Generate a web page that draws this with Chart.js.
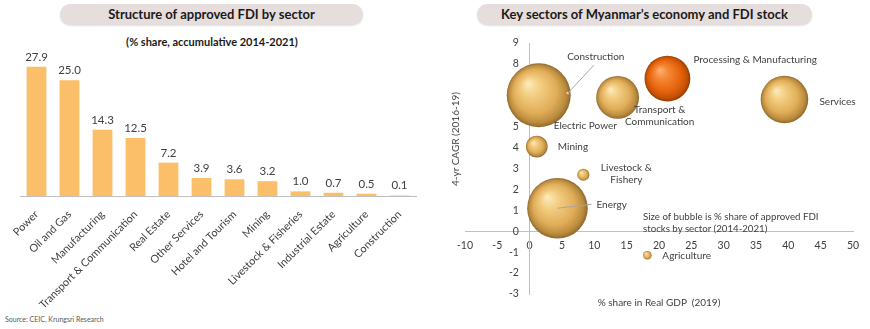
<!DOCTYPE html>
<html>
<head>
<meta charset="utf-8">
<script src="https://cdn.jsdelivr.net/npm/chart.js@4.4.0/dist/chart.umd.min.js"></script>
<style>
  html, body { margin: 0; padding: 0; background: #fff; }
  body { width: 870px; height: 329px; position: relative; overflow: hidden; font-family: Lato, 'Open Sans', sans-serif; color: #404040; }
  .pill { position: absolute; top: 4px; height: 21px; line-height: 21px; border-radius: 11px; background: #e6dddd;
          box-shadow: 0 1px 2px rgba(0,0,0,0.12); text-align: center; font-weight: bold; font-size: 13px; color: #1a1a1a; }
  .wrap { position: absolute; top: 0; width: 430px; height: 329px; }
  .txt { position: absolute; white-space: nowrap; font-size: 10.5px; line-height: 12px; color: #404040; }
</style>
</head>
<body>
<div class="pill" style="left:60px;width:303px;">Structure of approved FDI by sector</div>
<div class="pill" style="left:477px;width:335px;">Key sectors of Myanmar’s economy and FDI stock</div>
<div class="txt" style="left:0;width:424px;top:36px;text-align:center;font-weight:bold;font-size:11px;color:#1a1a1a;">(% share, accumulative 2014-2021)</div>
<div class="txt" style="left:5px;top:314px;font-size:7px;line-height:10px;color:#595959;">Source: CEIC, Krungsri Research</div>

<div class="wrap" style="left:0;"><canvas id="chart-sector"></canvas></div>
<div class="wrap" style="left:440px;"><canvas id="chart-bubble"></canvas></div>

<div class="txt" style="left:455px;top:139px;font-size:10px;transform:translate(-50%,-50%) rotate(-90deg);">4-yr CAGR (2016-19)</div>
<div class="txt" style="left:659px;top:296px;font-size:10px;transform:translateX(-50%);">% share in Real GDP&nbsp; (2019)</div>
<div class="txt" style="left:643px;top:210px;font-size:9.7px;">Size of bubble is % share of approved FDI<br>stocks by sector (2014-2021)</div>

<script>
'use strict';
// left chart: approved FDI by sector (% share)
var fdiSectors = ['Power', 'Oil and Gas', 'Manufacturing', 'Transport & Communication', 'Real Estate',
  'Other Services', 'Hotel and Tourism', 'Mining', 'Livestock & Fisheries', 'Industrial Estate', 'Agriculture', 'Construction'];
var fdiValues = [27.9, 25.0, 14.3, 12.5, 7.2, 3.9, 3.6, 3.2, 1.0, 0.7, 0.5, 0.1];

// right chart: key sectors, bubble = FDI share
var bubbleSectors = ['Electric Power', 'Construction', 'Transport & Communication', 'Processing & Manufacturing',
  'Services', 'Mining', 'Livestock & Fishery', 'Energy', 'Agriculture'];
var gdpShare = [1.4, 5.9, 13.6, 21.3, 39.4, 1.1, 8.3, 4.3, 18.2];
var cagr = [6.5, 6.6, 6.4, 7.3, 6.3, 4.05, 2.7, 1.1, -1.15];
var fdiStock = [27.9, 0.1, 12.5, 14.3, 15.4, 3.2, 1.0, 25.0, 0.5];

var xTickRange = [-10, 50];
var yTickRange = [-3, 9];

var FONT = 'Lato, "Open Sans", sans-serif';
var TEXT = '#404040';
var AXIS = '#bfbfbf';
var highlightSector = 'Processing & Manufacturing';

// label placement relative to bubble centre (px)
var bubbleLabels = {
  'Electric Power': { lines: ['Electric Power'], dx: 15, dy: 30, align: 'left' },
  'Construction': { lines: ['Construction'], dx: 28, dy: -36, align: 'center', leader: [26, -28] },
  'Transport & Communication': { lines: ['Transport &', 'Communication'], dx: 42, dy: 12.5, align: 'center' },
  'Processing & Manufacturing': { lines: ['Processing & Manufacturing'], dx: 26, dy: -19, align: 'left' },
  'Services': { lines: ['Services'], dx: 35, dy: 2, align: 'left' },
  'Mining': { lines: ['Mining'], dx: 21, dy: 0, align: 'left' },
  'Livestock & Fishery': { lines: ['Livestock &', 'Fishery'], dx: 43, dy: -6.5, align: 'center' },
  'Energy': { lines: ['Energy'], dx: 39, dy: -3, align: 'left', leader: [34, -4] },
  'Agriculture': { lines: ['Agriculture'], dx: 15, dy: 0, align: 'left' }
};

var goldStops = [[0, '#fdecbc'], [0.3, '#f3cd82'], [0.68, '#e0ad58'], [0.9, '#b98a3e'], [1, '#8f672b']];
var orangeStops = [[0, '#ffb279'], [0.3, '#f58733'], [0.68, '#e6640d'], [0.9, '#c25004'], [1, '#933b00']];

var valueLabels = {
  id: 'valueLabels',
  afterDatasetsDraw: function(chart) {
    var ctx = chart.ctx;
    var meta = chart.getDatasetMeta(0);
    ctx.save();
    ctx.font = '11.5px ' + FONT;
    ctx.fillStyle = TEXT;
    ctx.textAlign = 'center';
    ctx.textBaseline = 'bottom';
    meta.data.forEach(function(bar, i) {
      ctx.fillText(fdiValues[i].toFixed(1), bar.x, bar.y - 4);
    });
    ctx.restore();
  }
};

new Chart(document.getElementById('chart-sector'), {
  type: 'bar',
  data: {
    labels: fdiSectors,
    datasets: [{ data: fdiValues, backgroundColor: '#fcbf69', barPercentage: 0.6, categoryPercentage: 1 }]
  },
  options: {
    responsive: true, maintainAspectRatio: false, animation: false,
    layout: { autoPadding: false, padding: { left: 20, right: 14, top: 57, bottom: 10 } },
    plugins: { legend: { display: false }, tooltip: { enabled: false } },
    scales: {
      x: {
        grid: { display: false },
        border: { color: AXIS },
        ticks: { autoSkip: false, minRotation: 45, maxRotation: 45, color: TEXT, font: { size: 10.8, family: FONT }, padding: 4 },
        afterFit: function(s) { s.height = 123; }
      },
      y: { display: false, min: 0, max: 30 }
    }
  },
  plugins: [valueLabels]
});

function sphereFill(c) {
  var fallback = '#e9b964';
  if (!c.raw) return fallback;
  var chart = c.chart;
  var xs = chart.scales.x, ys = chart.scales.y;
  if (!xs || !ys) return fallback;
  var cx = xs.getPixelForValue(c.raw.x), cy = ys.getPixelForValue(c.raw.y), r = Math.max(c.raw.r, 1);
  if (!isFinite(cx) || !isFinite(cy)) return fallback;
  var g = chart.ctx.createRadialGradient(cx - r * 0.35, cy - r * 0.38, 0, cx, cy, r);
  var stops = bubbleSectors[c.dataIndex] === highlightSector ? orangeStops : goldStops;
  stops.forEach(function(s) { g.addColorStop(s[0], s[1]); });
  return g;
}

var bubbleText = {
  id: 'bubbleText',
  afterDraw: function(chart) {
    var ctx = chart.ctx;
    var meta = chart.getDatasetMeta(0);
    ctx.save();
    ctx.font = '10px ' + FONT;
    ctx.fillStyle = TEXT;
    ctx.textBaseline = 'middle';
    ctx.strokeStyle = '#a6a6a6';
    ctx.lineWidth = 1;
    meta.data.forEach(function(pt, i) {
      var cfg = bubbleLabels[bubbleSectors[i]];
      if (!cfg) return;
      if (cfg.leader) {
        ctx.beginPath();
        ctx.moveTo(pt.x, pt.y);
        ctx.lineTo(pt.x + cfg.leader[0], pt.y + cfg.leader[1]);
        ctx.stroke();
      }
      ctx.textAlign = cfg.align;
      cfg.lines.forEach(function(line, j) {
        ctx.fillText(line, pt.x + cfg.dx, pt.y + cfg.dy + j * 12);
      });
    });
    ctx.restore();
  }
};

var points = bubbleSectors.map(function(s, i) {
  return { x: gdpShare[i], y: cagr[i], r: Math.sqrt(fdiStock[i]) * 6.06 };
});

new Chart(document.getElementById('chart-bubble'), {
  type: 'bubble',
  data: {
    datasets: [{ data: points, backgroundColor: sphereFill, borderWidth: 0, hoverRadius: 0, clip: false }]
  },
  options: {
    responsive: true, maintainAspectRatio: false, animation: false,
    layout: { autoPadding: false, padding: { left: 25, right: 17, top: 43, bottom: 35 } },
    plugins: { legend: { display: false }, tooltip: { enabled: false } },
    scales: {
      x: {
        type: 'linear', min: xTickRange[0], max: xTickRange[1], position: { y: 0 },
        grid: { display: false }, border: { color: AXIS },
        ticks: { stepSize: 5, color: TEXT, font: { size: 10.5, family: FONT }, padding: 0 },
        afterFit: function(s) { s.height = 0; }
      },
      y: {
        type: 'linear', min: yTickRange[0], max: yTickRange[1], position: { x: 0 },
        grid: { display: false }, border: { color: AXIS },
        ticks: { display: false, stepSize: 1 },
        afterFit: function(s) { s.width = 0; }
      },
      yLabels: {
        type: 'linear', axis: 'y', min: yTickRange[0], max: yTickRange[1], position: { x: 0 }, z: 1,
        grid: { display: false }, border: { display: false },
        ticks: { stepSize: 1, color: TEXT, font: { size: 10.5, family: FONT }, callback: function(v) { return v + '    '; } },
        afterFit: function(s) { s.width = 0; }
      }
    }
  },
  plugins: [bubbleText]
});
</script>
</body>
</html>
